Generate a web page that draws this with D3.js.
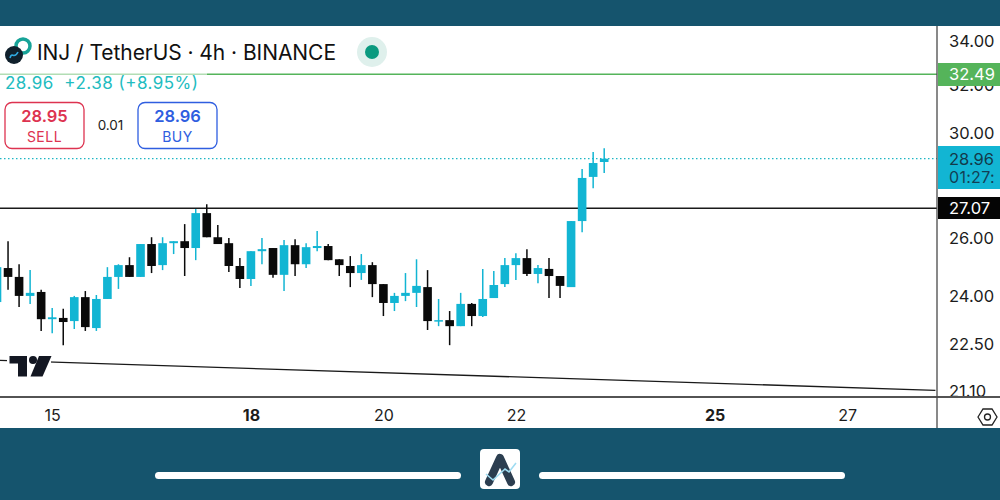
<!DOCTYPE html>
<html>
<head>
<meta charset="utf-8">
<script src="https://cdnjs.cloudflare.com/ajax/libs/d3/7.8.5/d3.min.js"></script>
<style>
    html, body { margin: 0; padding: 0; background: #fff; overflow: hidden; }
    text { font-family: Inter, "Liberation Sans", Arial, sans-serif; }
</style>
</head>
<body>
<div id="chart"></div>
<script>
// Candle values, one entry per 4h bar
var opens = [23.82, 24.95, 24.65, 24.02, 24.15, 23.27, 23.31, 23.21, 23.98, 22.99, 23.92, 24.65, 25.05, 24.65,
    25.78, 25.05, 25.81, 25.88, 25.64, 26.89, 26.02, 25.81, 25.02, 24.58, 25.53, 25.64, 24.72, 25.74,
    25.08, 25.64, 25.71, 25.25, 25.02, 24.78, 25.05, 24.41, 23.79, 24.02, 24.12, 24.31, 23.21, 23.24,
    23.05, 23.76, 23.37, 23.95, 24.41, 25.05, 25.29, 24.75, 24.92, 24.68, 24.31, 26.60, 28.25, 28.83];
var closes = [24.98, 24.65, 24.02, 24.12, 23.27, 23.33, 23.18, 23.98, 23.02, 23.92, 24.65, 25.05, 24.65, 25.78,
    25.02, 25.81, 25.88, 25.64, 26.89, 26.02, 25.78, 25.02, 24.58, 25.53, 25.60, 24.72, 25.74, 25.08,
    25.67, 25.71, 25.22, 25.05, 24.78, 25.05, 24.41, 23.79, 24.02, 24.12, 24.35, 23.21, 23.24, 23.05,
    23.76, 23.37, 23.92, 24.38, 25.05, 25.29, 24.75, 24.95, 24.68, 24.35, 26.60, 28.21, 28.79, 28.96];
var highs = [25.15, 25.88, 25.08, 24.88, 24.22, 23.63, 23.60, 24.02, 24.18, 24.05, 24.98, 25.08, 25.32, 25.78,
    26.02, 26.02, 25.88, 26.49, 27.04, 27.22, 26.46, 25.99, 25.29, 25.53, 25.99, 25.64, 25.92, 25.95,
    25.81, 26.24, 25.78, 25.25, 25.36, 25.43, 25.15, 24.41, 24.12, 24.78, 25.25, 24.88, 23.92, 23.53,
    24.12, 23.79, 24.92, 24.85, 25.29, 25.46, 25.60, 25.05, 25.29, 24.68, 26.60, 28.56, 29.23, 29.38];
var lows = [23.76, 24.22, 23.66, 23.76, 22.90, 22.83, 22.46, 22.96, 22.90, 22.90, 23.92, 24.25, 24.65, 24.65,
    24.78, 24.88, 25.43, 24.68, 25.22, 26.02, 25.78, 24.82, 24.28, 24.35, 25.08, 24.62, 24.18, 24.68,
    24.95, 25.53, 25.22, 24.68, 24.31, 24.55, 23.98, 23.37, 23.53, 23.85, 23.66, 22.93, 23.05, 22.46,
    23.05, 23.05, 23.34, 23.95, 24.31, 24.55, 24.68, 24.44, 23.95, 23.95, 24.31, 26.20, 27.82, 28.40];

// Axis labels
var priceTicks = [34, 32, 30, 26, 24, 22.5, 21.1];
var dayTicks = [5, 23, 35, 47, 65, 77];
var dayLabels = ["15", "18", "20", "22", "25", "27"];
var boldDays = ["18", "25"];

// Drawn levels
var resistance = 32.49;
var support = 27.07;
var lastPrice = 28.96;
var trendBars = [0, 85];
var trendPrices = [22.0, 21.12];

var properties = {
    width: 1000,
    height: 500,
    band: "#15546d",
    teal: "#12b5d3",
    black: "#0a0a0a",
    green: "#55b45a"
};

var chartArea = { left: 0, right: 937, top: 26, bottom: 397, paneBottom: 428 };

var svg = d3.select("#chart")
    .append("svg")
    .attr("width", properties.width)
    .attr("height", properties.height)
    .style("display", "block");

// Scales, the price axis is logarithmic
var yScale = d3.scaleLog().domain([21.1, 34]).range([391, 41]);
var xScale = d3.scaleLinear().domain([0, 55]).range([-3, 604.2]);
var bodyWidth = (xScale(1) - xScale(0)) * 0.78;

// Page background and white chart pane
svg.append("rect").attr("width", properties.width).attr("height", properties.height).attr("fill", properties.band);
svg.append("rect").attr("y", chartArea.top).attr("width", properties.width)
    .attr("height", chartArea.paneBottom - chartArea.top).attr("fill", "#fff");

var defs = svg.append("defs");
defs.append("clipPath").attr("id", "plotClip").append("rect")
    .attr("x", chartArea.left).attr("y", chartArea.top)
    .attr("width", chartArea.right - chartArea.left).attr("height", chartArea.bottom - chartArea.top);
defs.append("clipPath").attr("id", "priceClip").append("rect")
    .attr("x", chartArea.right).attr("y", chartArea.top)
    .attr("width", properties.width - chartArea.right).attr("height", chartArea.bottom - chartArea.top - 1);

var plot = svg.append("g").attr("clip-path", "url(#plotClip)");

// Horizontal levels
plot.append("line").attr("x1", 0).attr("x2", chartArea.right)
    .attr("y1", yScale(resistance)).attr("y2", yScale(resistance))
    .attr("stroke", properties.green).attr("stroke-width", 1.5);
plot.append("line").attr("x1", 0).attr("x2", chartArea.right)
    .attr("y1", yScale(support)).attr("y2", yScale(support))
    .attr("stroke", "#1a1a1a").attr("stroke-width", 1.6);
plot.append("line").attr("x1", 0).attr("x2", chartArea.right)
    .attr("y1", yScale(lastPrice)).attr("y2", yScale(lastPrice))
    .attr("stroke", "#1fb6c4").attr("stroke-width", 1.2).attr("stroke-dasharray", "1.5 2.5");

// Falling trend line
var trendLine = d3.line()
    .x(function (d, i) { return xScale(d); })
    .y(function (d, i) { return yScale(trendPrices[i]); });
plot.append("path").attr("d", trendLine(trendBars))
    .attr("fill", "none").attr("stroke", "#1a1a1a").attr("stroke-width", 1.3);

// Candles
var candles = plot.selectAll(".candle")
    .data(opens)
    .enter()
    .append("g")
    .attr("class", "candle")
    .attr("fill", function (d, i) { return closes[i] >= d ? properties.teal : properties.black; })
    .attr("stroke", function (d, i) { return closes[i] >= d ? properties.teal : properties.black; });

candles.append("line")
    .attr("x1", function (d, i) { return xScale(i); })
    .attr("x2", function (d, i) { return xScale(i); })
    .attr("y1", function (d, i) { return yScale(highs[i]); })
    .attr("y2", function (d, i) { return yScale(lows[i]); })
    .attr("stroke-width", 1.5);

candles.append("rect")
    .attr("x", function (d, i) { return xScale(i) - bodyWidth / 2; })
    .attr("width", bodyWidth)
    .attr("y", function (d, i) { return yScale(Math.max(d, closes[i])); })
    .attr("height", function (d, i) { return Math.max(1.5, Math.abs(yScale(d) - yScale(closes[i]))); })
    .attr("stroke", "none");

// Pane frame
svg.append("line").attr("x1", 0).attr("x2", properties.width)
    .attr("y1", chartArea.bottom).attr("y2", chartArea.bottom)
    .attr("stroke", "#1a1a1a").attr("stroke-width", 1.5);
svg.append("line").attr("x1", chartArea.right).attr("x2", chartArea.right)
    .attr("y1", chartArea.top).attr("y2", chartArea.paneBottom)
    .attr("stroke", "#4a4a4a").attr("stroke-width", 1.3);

// Price axis
var priceAxis = svg.append("g")
    .attr("clip-path", "url(#priceClip)")
    .append("g")
    .attr("transform", "translate(" + chartArea.right + ",0)")
    .call(d3.axisRight(yScale).tickValues(priceTicks).tickSize(0).tickPadding(12)
        .tickFormat(function (d) { return d.toFixed(2); }));
priceAxis.select(".domain").remove();
priceAxis.selectAll("text")
    .attr("font-size", 16.5)
    .attr("fill", "#1c1c1c");

// Price labels on the axis
function priceLabel(value, boxTop, boxBottom, fill, color) {
    svg.append("rect").attr("x", chartArea.right + 1).attr("y", boxTop)
        .attr("width", properties.width - chartArea.right).attr("height", boxBottom - boxTop)
        .attr("fill", fill);
    return svg.append("text").attr("x", chartArea.right + 12).attr("y", yScale(value) + 6)
        .attr("font-size", 16.5).attr("fill", color).text(value.toFixed(2));
}
priceLabel(resistance, 63, 86, properties.green, "#fff");
priceLabel(lastPrice, 146, 189, properties.teal, "#123a4a");
priceLabel(support, 197, 219, "#050505", "#fff");
svg.append("text").attr("x", chartArea.right + 12).attr("y", 183)
    .attr("font-size", 16).attr("letter-spacing", 0.3).attr("fill", "#123f55").text("01:27:");

// Time axis
var timeAxis = svg.append("g")
    .attr("transform", "translate(0," + chartArea.bottom + ")")
    .call(d3.axisBottom(xScale).tickValues(dayTicks).tickSize(0).tickPadding(13)
        .tickFormat(function (d, i) { return dayLabels[i]; }));
timeAxis.select(".domain").remove();
timeAxis.selectAll("text")
    .attr("font-size", 16)
    .attr("fill", "#1c1c1c")
    .attr("font-weight", function (d, i) { return boldDays.indexOf(dayLabels[i]) >= 0 ? "bold" : "normal"; });

// Settings hexagon in the axis corner
svg.append("path").attr("d", "M978 417L983 409H992L997 417L992 425H983Z")
    .attr("fill", "none").attr("stroke", "#222").attr("stroke-width", 1.3);
svg.append("circle").attr("cx", 987.5).attr("cy", 417).attr("r", 3)
    .attr("fill", "none").attr("stroke", "#222").attr("stroke-width", 1.3);

// TradingView mark sits on top of the trend line
var mark = svg.append("g");
mark.append("rect").attr("x", 7).attr("y", 353).attr("width", 44).attr("height", 26).attr("fill", "#fff");
mark.append("path").attr("d", "M9.5 356H27V376.5H18V363.5H9.5Z").attr("fill", "#131722");
mark.append("circle").attr("cx", 33).attr("cy", 360).attr("r", 4).attr("fill", "#131722");
mark.append("path").attr("d", "M39 356H51.5L42.5 376.5H30.5Z").attr("fill", "#131722");

// Faded strip of the legend pane over the green level
svg.append("rect").attr("x", 0).attr("y", 71).attr("width", 207).attr("height", 6)
    .attr("fill", "#fff").attr("opacity", 0.55);

// Symbol icons
svg.append("circle").attr("cx", 23).attr("cy", 46).attr("r", 7).attr("fill", "none")
    .attr("stroke", "#17a398").attr("stroke-width", 3.5);
svg.append("circle").attr("cx", 14).attr("cy", 55).attr("r", 9).attr("fill", "#10202c");
svg.append("path").attr("d", "M10 58C12 51 14 60 18 52").attr("fill", "none")
    .attr("stroke", "#2fa9e0").attr("stroke-width", 1.6);

// Legend header
svg.append("text").attr("x", 37).attr("y", 60).attr("font-size", 21).attr("fill", "#111")
    .attr("textLength", 299).text("INJ / TetherUS · 4h · BINANCE");
svg.append("circle").attr("cx", 372).attr("cy", 52).attr("r", 15).attr("fill", "#dff0ec");
svg.append("circle").attr("cx", 372).attr("cy", 52).attr("r", 7).attr("fill", "#0b9a7f");
svg.append("text").attr("x", 5).attr("y", 89).attr("font-size", 17)
    .attr("fill", "#22bcc0").attr("textLength", 193).attr("xml:space", "preserve").text("28.96  +2.38 (+8.95%)");

// Sell and buy buttons
function tradeButton(x, color, price, label) {
    svg.append("rect").attr("x", x).attr("y", 102.5).attr("width", 79).attr("height", 46).attr("rx", 7)
        .attr("fill", "#fff").attr("stroke", color).attr("stroke-width", 1.3);
    svg.append("text").attr("x", x + 39.5).attr("y", 122).attr("text-anchor", "middle")
        .attr("font-size", 16.5).attr("font-weight", 600).attr("fill", color).text(price);
    svg.append("text").attr("x", x + 39.5).attr("y", 142).attr("text-anchor", "middle")
        .attr("font-size", 14).attr("letter-spacing", 0.5).attr("fill", color).text(label);
}
tradeButton(5, "#dd3350", "28.95", "SELL");
tradeButton(138, "#2f5ee0", "28.96", "BUY");
svg.append("text").attr("x", 110.5).attr("y", 130).attr("text-anchor", "middle")
    .attr("font-size", 13.5).attr("fill", "#222").text("0.01");

// Footer decoration
svg.append("rect").attr("x", 155).attr("y", 472).attr("width", 306).attr("height", 7).attr("rx", 3.5).attr("fill", "#fff");
svg.append("rect").attr("x", 539).attr("y", 472).attr("width", 306).attr("height", 7).attr("rx", 3.5).attr("fill", "#fff");
svg.append("rect").attr("x", 480).attr("y", 449).attr("width", 40).attr("height", 40).attr("rx", 4).attr("fill", "#fff");
svg.append("path").attr("d", "M489 482L500 458L511 482")
    .attr("fill", "none").attr("stroke", "#2c3e50").attr("stroke-width", 8).attr("stroke-linejoin", "round").attr("stroke-linecap", "round");
svg.append("path").attr("d", "M486 474L493 480L505 469L509 472L516 463")
    .attr("fill", "none").attr("stroke", "#9fdcf2").attr("stroke-width", 1.6);
</script>
</body>
</html>
